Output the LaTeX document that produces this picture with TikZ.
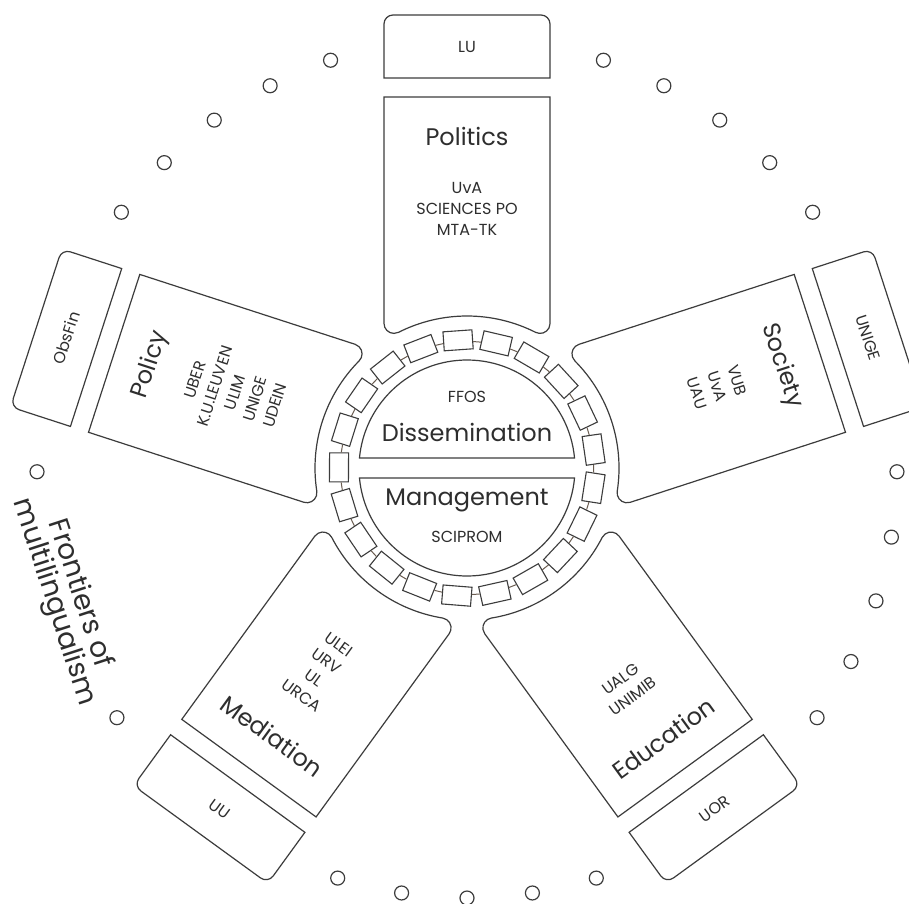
\documentclass[tikz,border=0pt]{standalone}
\usepackage{fontspec}
\setmainfont{Poppins}
\definecolor{ln}{HTML}{3C3C3C}
\definecolor{tx}{HTML}{2E2E2E}
\definecolor{cn}{HTML}{6A5C50}
\newcommand\petalshape[1]{%
  \begin{scope}[rotate=#1-90]
    \draw[base] (-83,371) -- (-83,144.6)
      arc[start angle=180,end angle=296.8,radius=10pt]
      arc[start angle=116.8,end angle=63.2,radius=152pt]
      arc[start angle=243.2,end angle=360,radius=10pt]
      -- (83,371) -- cycle;
    \draw[base] (-83,390) -- (-83,420) [rounded corners=9pt] -- (-83,453) -- (83,453) -- (83,420) [sharp corners] -- (83,390) -- cycle;
  \end{scope}}
\begin{document}
\begin{tikzpicture}[x=1pt,y=1pt,
  base/.style={draw=ln, line width=1.2pt},
  ttl/.style={text=tx, font=\fontsize{24}{24}\selectfont, inner sep=0pt},
  sml/.style={text=tx, font=\fontsize{16}{16}\selectfont, inner sep=0pt},
  big/.style={text=tx, font=\fontsize{28}{27}\selectfont, inner sep=0pt, align=center},
  ringbox/.style={draw=ln, line width=1.1pt, minimum width=29pt, minimum height=19pt, inner sep=0pt, fill=white},
  dot/.style={draw=ln, line width=1.2pt, circle, minimum size=14pt, inner sep=0pt},
  conn/.style={draw=cn, line width=1pt}]
\useasboundingbox (-467,-435) rectangle (442,468);
\fill[white] (-467,-435) rectangle (442,468);

% petals
\petalshape{90}
\petalshape{18}
\petalshape{162}
\petalshape{-54}
\petalshape{-126}

% centre halves
\draw[base] (5.31:108) arc[start angle=5.31,end angle=174.69,radius=108pt] -- cycle;
\draw[base] (-5.31:108) arc[start angle=-5.31,end angle=-174.69,radius=108pt] -- cycle;
\node[sml] (ffos) at (0,71) {FFOS};
\node[ttl] (diss) at (0,36) {Dissemination};
\node[ttl] (mgmt) at (0,-32) {Management};
\node[sml] (sci) at (0,-69) {SCIPROM};

% ring of boxes
\foreach \i in {0,...,20}{
  \pgfmathsetmacro\ang{94+\i*360/21}
  \node[ringbox, rotate=\ang-90] (rb\i) at (\ang:128) {};
}
\foreach \i in {0,...,20}{
  \pgfmathtruncatemacro\j{mod(\i+1,21)}
  \draw[conn] (rb\i) -- (rb\j);
}

% Politics
\node[ttl] (pol) at (90:332) {Politics};
\node[sml] (pol1) at (90:280) {UvA};
\node[sml] (pol2) at (90:259) {SCIENCES PO};
\node[sml] (pol3) at (90:238) {MTA-TK};
\node[sml] (lu) at (90:421.5) {LU};
% Society
\node[ttl, rotate=-72] (soc) at (18:331) {Society};
\node[sml, rotate=-72] (soc1) at (18:284) {VUB};
\node[sml, rotate=-72] (soc2) at (18:263) {UvA};
\node[sml, rotate=-72] (soc3) at (18:242) {UAU};
\node[sml, rotate=-72] (unige) at (18:421.5) {UNIGE};
% Policy
\node[ttl, rotate=72] (plc) at (162:333) {Policy};
\node[sml, rotate=72] (plc1) at (162:286) {UBER};
\node[sml, rotate=72] (plc2) at (162:265) {K.U.LEUVEN};
\node[sml, rotate=72] (plc3) at (162:244) {ULIM};
\node[sml, rotate=72] (plc4) at (162:223) {UNIGE};
\node[sml, rotate=72] (plc5) at (162:202) {UDEIN};
\node[sml, rotate=72] (obs) at (162:421.5) {ObsFin};
% Mediation
\node[ttl, rotate=-36] (med) at (-126:331) {Mediation};
\node[sml, rotate=-36] (med4) at (-126:281) {URCA};
\node[sml, rotate=-36] (med3) at (-126:260) {UL};
\node[sml, rotate=-36] (med2) at (-126:239) {URV};
\node[sml, rotate=-36] (med1) at (-126:218) {ULEI};
\node[sml, rotate=-36] (uu) at (-126:421.5) {UU};
% Education
\node[ttl, rotate=36] (edu) at (-54:334) {Education};
\node[sml, rotate=36] (edu2) at (-54:282) {UNIMIB};
\node[sml, rotate=36] (edu1) at (-54:261) {UALG};
\node[sml, rotate=36] (uor) at (-54:421.5) {UOR};

% dots
\foreach \m [count=\g] in {54,-18,-90,126}{
  \foreach \o [count=\k] in {-17.5,-8.75,0,8.75,17.5}{
    \node[dot] (d\g-\k) at (\m+\o:430) {};
  }
}
\node[dot] (d5-1) at (180.5:430) {};
\node[dot] (d5-2) at (215.5:430) {};
\node[big, rotate=-72] (front) at (198:421) {Frontiers of\\multilingualism};
\end{tikzpicture}
\end{document}
